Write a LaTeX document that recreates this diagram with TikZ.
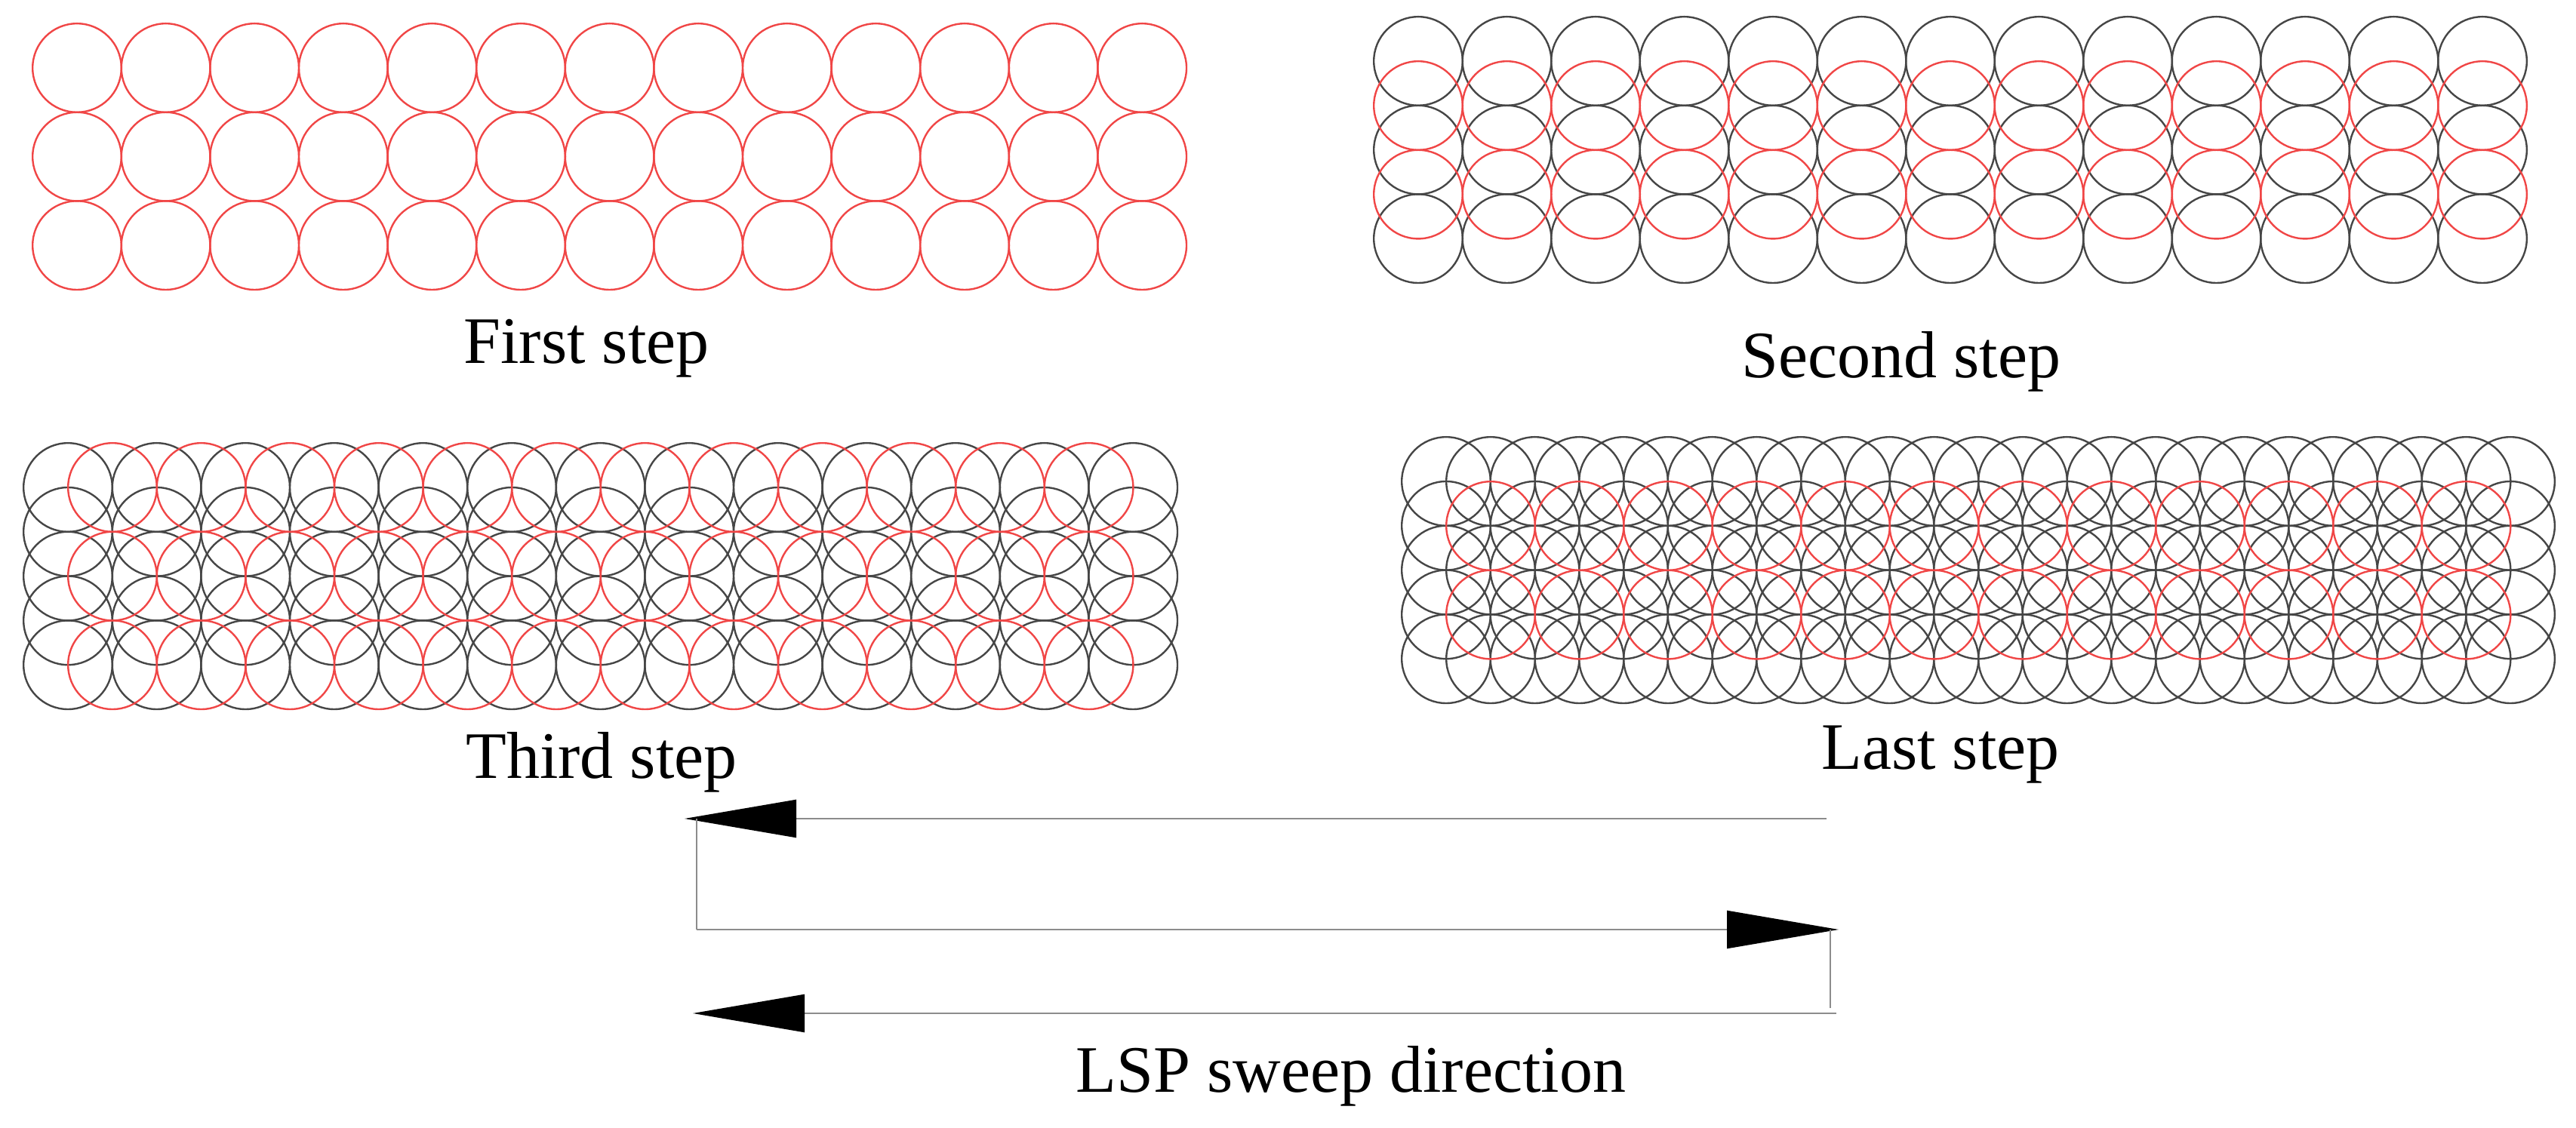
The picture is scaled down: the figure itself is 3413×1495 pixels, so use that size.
\documentclass[tikz,border=0pt]{standalone}
\usepackage{fontspec}
\setmainfont{Liberation Serif}
\usetikzlibrary{arrows.meta}
\definecolor{cred}{RGB}{240,70,70}
\definecolor{cblack}{RGB}{70,70,70}
\definecolor{cline}{RGB}{140,140,140}
\tikzset{
  redc/.style={draw=cred,line width=0.6pt},
  blkc/.style={draw=cblack,line width=0.6pt},
  lbl/.style={font=\fontsize{22}{26}\selectfont,inner sep=0pt},
  sweep/.style={draw=cline,line width=0.6pt},
  sweeparrow/.style={sweep,-{Triangle[length=37pt,width=12.5pt,color=black]}}
}
\begin{document}
\begin{tikzpicture}[x=0.25pt,y=-0.25pt]
\useasboundingbox (0,0) rectangle (3413,1495);
% First step
\foreach \i in {0,...,12}{\foreach \j in {0,1,2}{
  \draw[redc] ({102+117.6*\i},{90+117.6*\j}) circle[radius=14.7pt];}}
% Second step
\foreach \i in {0,...,12}{\foreach \j in {0,1,2}{
  \draw[blkc] ({1879+117.5*\i},{81+117.6*\j}) circle[radius=14.7pt];}}
\foreach \i in {0,...,12}{\foreach \j in {0,1}{
  \draw[redc] ({1879+117.5*\i},{140+117.6*\j}) circle[radius=14.7pt];}}
% Third step
\foreach \i in {0,...,12}{\foreach \j in {0,...,4}{
  \draw[blkc] ({90+117.6*\i},{646+58.8*\j}) circle[radius=14.7pt];}}
\foreach \i in {0,...,11}{\foreach \j in {0,1,2}{
  \draw[redc] ({149+117.6*\i},{646+117.6*\j}) circle[radius=14.7pt];}}
% Last step
\foreach \i in {0,...,12}{\foreach \j in {0,...,4}{
  \draw[blkc] ({1916+117.5*\i},{638+58.8*\j}) circle[radius=14.7pt];}}
\foreach \i in {0,...,11}{\foreach \j in {0,1,2}{
  \draw[blkc] ({1975+117.5*\i},{638+117.6*\j}) circle[radius=14.7pt];}}
\foreach \i in {0,...,11}{\foreach \j in {0,1}{
  \draw[redc] ({1975+117.5*\i},{697+117.6*\j}) circle[radius=14.7pt];}}
% Labels
\node[lbl] (l1) at (777,462) {First step};
\node[lbl] (l2) at (2519,479) {Second step};
\node[lbl] (l3) at (797,1010) {Third step};
\node[lbl] (l4) at (2571,1000) {Last step};
\node[lbl] (l5) at (1790,1426) {LSP sweep direction};
% Sweep path
\coordinate (a1) at (2420,1085);
\coordinate (a2) at (907,1085);
\coordinate (v1) at (923,1085);
\coordinate (v2) at (923,1232);
\coordinate (b2) at (2436,1232);
\coordinate (w1) at (2425,1232);
\coordinate (w2) at (2425,1336);
\coordinate (c1) at (2433,1343);
\coordinate (c2) at (918,1343);
\draw[sweeparrow] (a1) -- (a2);
\draw[sweep] (v1) -- (v2);
\draw[sweeparrow] (v2) -- (b2);
\draw[sweep] (w1) -- (w2);
\draw[sweeparrow] (c1) -- (c2);
\end{tikzpicture}
\end{document}
